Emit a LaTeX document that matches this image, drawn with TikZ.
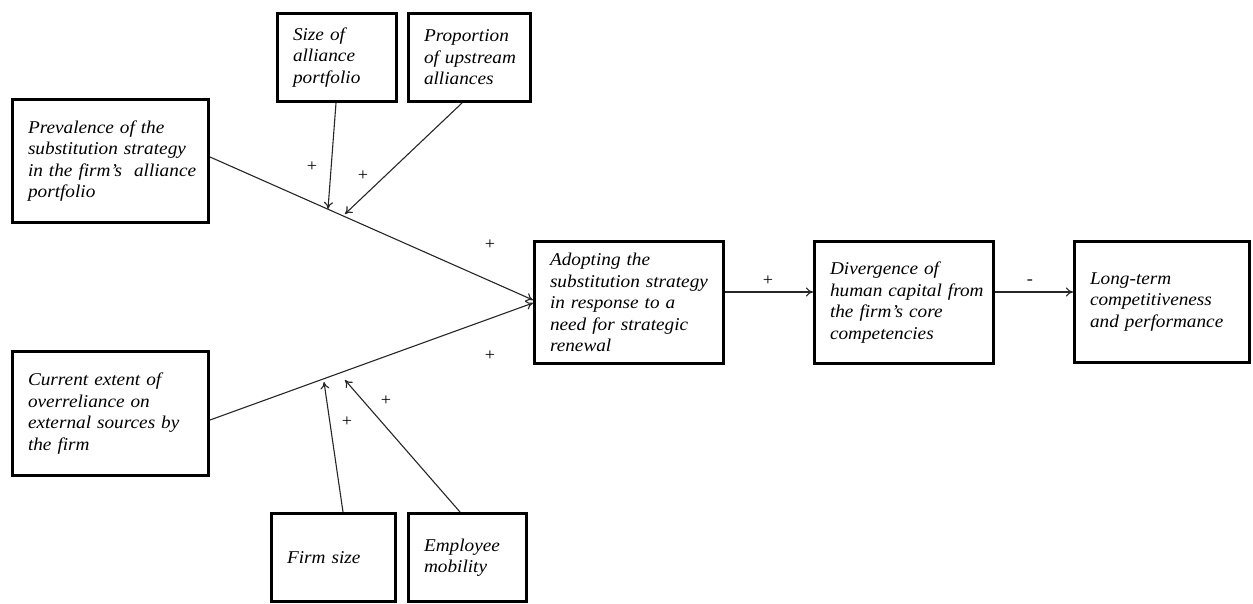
\documentclass[tikz,border=0pt]{standalone}
\usepackage{fontspec}
\setmainfont{Liberation Serif}[FakeStretch=1.07]
\usetikzlibrary{arrows.meta}
\newcommand{\mb}[1]{\mbox{#1}}
\begin{document}
\begin{tikzpicture}[x=1pt,y=-1pt,
  box/.style={draw=black, line width=3pt, inner xsep=15.5pt, inner ysep=0pt, align=left,
    font=\fontsize{18}{21.5}\selectfont\itshape},
  conn/.style={line width=1.1pt, draw=black!85},
  arr/.style={conn, -{To[length=7pt,width=9pt]}},
  sign/.style={font=\fontsize{17}{17}\selectfont, inner sep=0pt}]
\useasboundingbox (0,0) rectangle (1253,604);
\node[box, minimum width=196pt, minimum height=123pt, text width=165pt] (P) at (110.5,161)
  {\mb{Prevalence of the}\\\mb{substitution strategy}\\\mb{in the firm's\ \ alliance}\\\mb{portfolio}};
\node[box, minimum width=119pt, minimum height=88pt, text width=88pt] (S) at (337,57.5)
  {\mb{Size of}\\\mb{alliance}\\\mb{portfolio}};
\node[box, minimum width=122pt, minimum height=88pt, text width=91pt] (Pr) at (469.5,57.5)
  {\mb{Proportion}\\\mb{of upstream}\\\mb{alliances}};
\node[box, minimum width=189pt, minimum height=122pt, text width=158pt] (A) at (629,302.5)
  {\mb{Adopting the}\\\mb{substitution strategy}\\\mb{in response to a}\\\mb{need for strategic}\\\mb{renewal}};
\node[box, minimum width=179pt, minimum height=122pt, text width=148pt] (D) at (904,302.5)
  {\mb{Divergence of}\\\mb{human capital from}\\\mb{the firm's core}\\\mb{competencies}};
\node[box, minimum width=173pt, minimum height=120pt, text width=144pt] (L) at (1162,302)
  {\mb{Long-term}\\\mb{competitiveness}\\\mb{and performance}};
\node[box, minimum width=196pt, minimum height=124pt, text width=165pt] (C) at (110.5,413.5)
  {\mb{Current extent of}\\\mb{overreliance on}\\\mb{external sources by}\\\mb{the firm}};
\node[box, minimum width=124pt, minimum height=88pt, text width=93pt] (F) at (333.5,557.5)
  {\mb{Firm size}};
\node[box, minimum width=118pt, minimum height=88pt, text width=87pt] (E) at (467.5,557.5)
  {\mb{Employee}\\\mb{mobility}};
% moderation points
\coordinate (m1) at (328,209);
\coordinate (m2) at (345,214);
\coordinate (m3) at (324,382);
\coordinate (m4) at (345,380);
% main lines
\draw[arr] ([yshift=4pt]P.east) -- ([yshift=2.5pt]A.west);
\draw[arr] ([yshift=-6.5pt]C.east) -- ([yshift=-0.5pt]A.west);
\draw[arr] ([yshift=10.5pt]A.east) -- ([yshift=10.5pt]D.west);
\draw[arr] ([yshift=10.5pt]D.east) -- ([yshift=10pt]L.west);
% moderators
\draw[arr] ([xshift=-1pt]S.south) -- (m1);
\draw[arr] ([xshift=-7.5pt]Pr.south) -- (m2);
\draw[arr] ([xshift=9.5pt]F.north) -- (m3);
\draw[arr] ([xshift=-7.5pt]E.north) -- (m4);
% signs
\node[sign] (s1) at (312,167) {+};
\node[sign] (s2) at (363,176) {+};
\node[sign] (s3) at (490,245) {+};
\node[sign] (s4) at (490,356) {+};
\node[sign] (s5) at (347,422) {+};
\node[sign] (s6) at (386,401) {+};
\node[sign] (s7) at (768,281) {+};
\node[sign] (s8) at (1030,282) {-};
\end{tikzpicture}
\end{document}
